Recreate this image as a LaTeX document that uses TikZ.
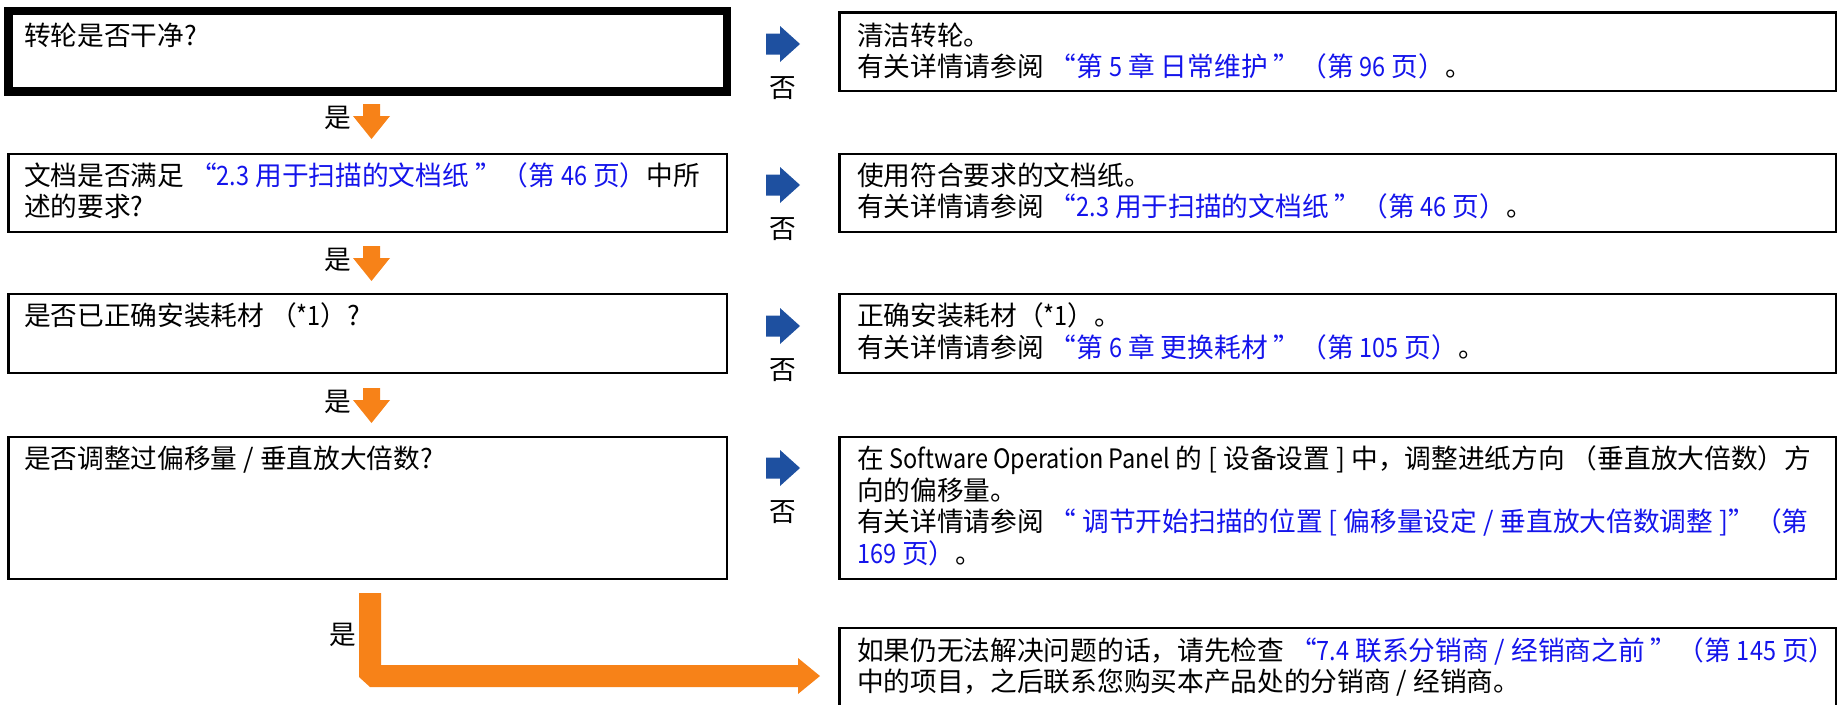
\documentclass[tikz,border=0pt]{standalone}
\usepackage{fontspec}
\usepackage{graphicx}
\setmainfont{Noto Sans CJK SC}
\definecolor{lnkblue}{RGB}{20,20,235}
\definecolor{arrblue}{RGB}{30,80,160}
\definecolor{arrorange}{RGB}{247,130,24}
\newcommand{\lnk}[1]{\textcolor{lnkblue}{#1}}
\newcommand{\nl}[1]{\scalebox{0.88}[1]{#1}}
\tikzset{
  boxline/.style={draw=black, line width=2.4pt, fill=none, inner sep=0pt, outer sep=0pt},
  thickline/.style={draw=black, line width=8.5pt, fill=none, inner sep=0pt, outer sep=0pt},
  txt/.style={inner sep=0pt, outer sep=0pt, font=\fontsize{26.7}{31.5}\selectfont, text=black},
  bluearrow/.pic={\fill[arrblue] (-17,-10.5) -- (-3,-10.5) -- (-3,-18) -- (17,0) -- (-3,18) -- (-3,10.5) -- (-17,10.5) -- cycle;},
  orangedown/.pic={\fill[arrorange] (-8.5,0) -- (8.5,0) -- (8.5,12) -- (18.5,12) -- (0,35) -- (-18.5,12) -- (-8.5,12) -- cycle;}
}
\begin{document}
\begin{tikzpicture}[x=1pt,y=-1pt]
\useasboundingbox (0,0) rectangle (1838,704);
\clip (0,0) rectangle (1838,704);
% left boxes
\node[thickline, minimum width=718.5pt, minimum height=80.5pt, anchor=north west] (q1) at (8.5,11) {};
\node[boxline, minimum width=718.5pt, minimum height=78pt, anchor=north west] (q2) at (8.5,154) {};
\node[boxline, minimum width=718.5pt, minimum height=79pt, anchor=north west] (q3) at (8.5,294) {};
\node[boxline, minimum width=718.5pt, minimum height=142pt, anchor=north west] (q4) at (8.5,437) {};
% right boxes
\node[boxline, minimum width=996.5pt, minimum height=78.5pt, anchor=north west] (a1) at (839.5,12.5) {};
\node[boxline, minimum width=996.5pt, minimum height=78pt, anchor=north west] (a2) at (839.5,154) {};
\node[boxline, minimum width=996.5pt, minimum height=79pt, anchor=north west] (a3) at (839.5,294) {};
\node[boxline, minimum width=996.5pt, minimum height=142pt, anchor=north west] (a4) at (839.5,437) {};
\node[boxline, minimum width=996.5pt, minimum height=100pt, anchor=north west] (a5) at (839.5,628) {};
% left texts
\node[txt, anchor=base west] (q1a) at (24,45) {转轮是否干净?};
\node[txt, anchor=base west] (q2a) at (24,185) {文档是否满足 \lnk{“\nl{2.3} 用于扫描的文档纸 ”（第 \nl{46} 页）}中所};
\node[txt, anchor=base west] (q2b) at (24,216) {述的要求?};
\node[txt, anchor=base west] (q3a) at (24,325) {是否已正确安装耗材 （\nl{*1}）?};
\node[txt, anchor=base west] (q4a) at (24,468) {是否调整过偏移量 / 垂直放大倍数?};
% right texts
\node[txt, anchor=base west] (a1a) at (857,45) {清洁转轮。};
\node[txt, anchor=base west] (a1b) at (857,76) {有关详情请参阅 \lnk{“第 \nl{5} 章 日常维护 ”（第 \nl{96} 页）}。};
\node[txt, anchor=base west] (a2a) at (857,185) {使用符合要求的文档纸。};
\node[txt, anchor=base west] (a2b) at (857,216) {有关详情请参阅 \lnk{“\nl{2.3} 用于扫描的文档纸 ”（第 \nl{46} 页）}。};
\node[txt, anchor=base west] (a3a) at (857,325) {正确安装耗材（\nl{*1}）。};
\node[txt, anchor=base west] (a3b) at (857,357) {有关详情请参阅 \lnk{“第 \nl{6} 章 更换耗材 ”（第 \nl{105} 页）}。};
\node[txt, anchor=base west] (a4a) at (857,468) {在 \nl{Software Operation Panel} 的 [ 设备设置 ] 中，调整进纸方向 （垂直放大倍数）方};
\node[txt, anchor=base west] (a4b) at (857,500) {向的偏移量。};
\node[txt, anchor=base west] (a4c) at (857,531) {有关详情请参阅 \lnk{“ 调节开始扫描的位置 [ 偏移量设定 / 垂直放大倍数调整 ]”（第}};
\node[txt, anchor=base west] (a4d) at (857,563) {\lnk{\nl{169} 页）}。};
\node[txt, anchor=base west] (a5a) at (857,660) {如果仍无法解决问题的话，请先检查 \lnk{“\nl{7.4} 联系分销商 / 经销商之前 ”（第 \nl{145} 页）}};
\node[txt, anchor=base west] (a5b) at (857,691) {中的项目，之后联系您购买本产品处的分销商 / 经销商。};
% blue "no" arrows
\foreach \c/\n in {44/1,185/2,326/3,468/4}{
  \pic at (783,\c) {bluearrow};
  \node[txt] (no\n) at (783,\c+44) {否};
}
% orange "yes" arrows
\foreach \t/\n in {104/1,246/2,388/3}{
  \pic at (371.5,\t) {orangedown};
  \node[txt] (yes\n) at (338,\t+14) {是};
}
% big L arrow
\fill[arrorange] (359,593) -- (381,593) -- (381,665) -- (798,665) -- (798,658) -- (820,676) -- (798,694) -- (798,687) -- (370,687) -- (359,677) -- cycle;
\node[txt] (yes4) at (343,635) {是};
\end{tikzpicture}
\end{document}
